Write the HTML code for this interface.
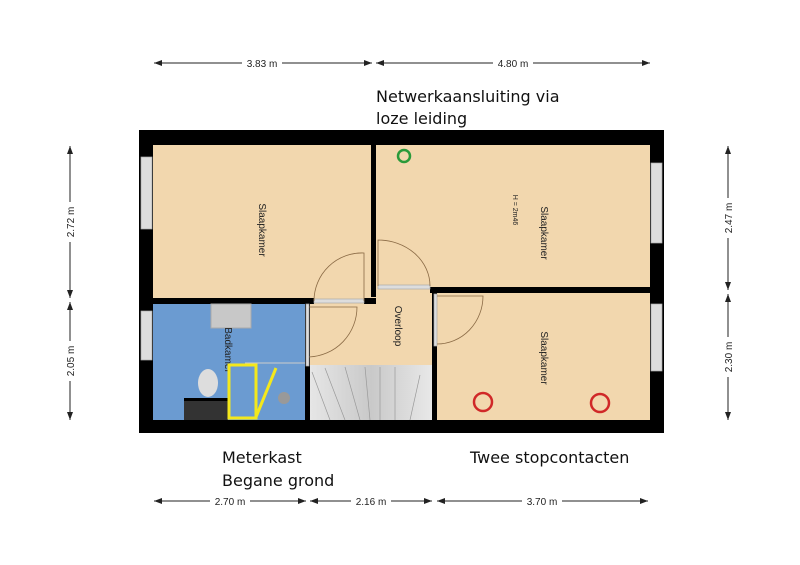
<!DOCTYPE html>
<html><head><meta charset="utf-8"><style>
body{margin:0;background:#fff;width:800px;height:565px;overflow:hidden}
svg{display:block}
.t{font-family:"Liberation Sans",sans-serif;font-size:10px;fill:#222}
.c{font-family:"DejaVu Sans","Liberation Sans",sans-serif;font-size:16px;fill:#111}
</style></head><body>
<svg width="800" height="565" viewBox="0 0 800 565">
<defs>
<marker id="a" markerWidth="8" markerHeight="6" refX="8" refY="3" orient="auto"><path d="M0,0 L8,3 L0,6z" fill="#222"/></marker>
<marker id="b" markerWidth="8" markerHeight="6" refX="0" refY="3" orient="auto"><path d="M8,0 L0,3 L8,6z" fill="#222"/></marker>
<linearGradient id="st" x1="0" x2="1"><stop offset="0" stop-color="#e6e6e6"/><stop offset="0.5" stop-color="#c9c9c9"/><stop offset="1" stop-color="#e8e8e8"/></linearGradient>
</defs>
<g stroke="#222" stroke-width="1" marker-start="url(#b)" marker-end="url(#a)">
<line x1="154" y1="63" x2="372" y2="63"/><line x1="376" y1="63" x2="650" y2="63"/>
<line x1="154" y1="501" x2="306" y2="501"/><line x1="310" y1="501" x2="432" y2="501"/><line x1="437" y1="501" x2="648" y2="501"/>
<line x1="70" y1="146" x2="70" y2="298"/><line x1="70" y1="302" x2="70" y2="420"/>
<line x1="728" y1="146" x2="728" y2="290"/><line x1="728" y1="294" x2="728" y2="420"/>
</g>
<g class="t" text-anchor="middle">
<rect x="242" y="56" width="40" height="14" fill="#fff"/><text x="262" y="67">3.83 m</text>
<rect x="493" y="56" width="40" height="14" fill="#fff"/><text x="513" y="67">4.80 m</text>
<rect x="210" y="494" width="40" height="14" fill="#fff"/><text x="230" y="505">2.70 m</text>
<rect x="351" y="494" width="40" height="14" fill="#fff"/><text x="371" y="505">2.16 m</text>
<rect x="522" y="494" width="40" height="14" fill="#fff"/><text x="542" y="505">3.70 m</text>
<g transform="translate(74,222) rotate(-90)"><rect x="-20" y="-12" width="40" height="14" fill="#fff"/><text>2.72 m</text></g>
<g transform="translate(74,361) rotate(-90)"><rect x="-20" y="-12" width="40" height="14" fill="#fff"/><text>2.05 m</text></g>
<g transform="translate(732,218) rotate(-90)"><rect x="-20" y="-12" width="40" height="14" fill="#fff"/><text>2.47 m</text></g>
<g transform="translate(732,357) rotate(-90)"><rect x="-20" y="-12" width="40" height="14" fill="#fff"/><text>2.30 m</text></g>
</g>
<rect x="139" y="130" width="525" height="303" fill="#000"/>
<rect x="153" y="145" width="497" height="275" fill="#f2d7ae"/>
<rect x="153" y="304" width="154" height="116" fill="#6b9bd1"/>
<rect x="310" y="365" width="122" height="55" fill="url(#st)"/>
<g stroke="#999" stroke-width="0.7" fill="none">
<path d="M330,420 L312,372 M345,420 L325,368 M360,420 L345,367 M370,420 L365,367 M380,420 L380,367 M395,420 L395,367 M410,420 L420,375"/>
</g>
<rect x="371" y="145" width="5" height="152" fill="#000"/>
<rect x="153" y="298" width="161" height="6" fill="#000"/>
<rect x="364" y="298" width="12" height="6" fill="#000"/>
<rect x="430" y="287" width="220" height="6" fill="#000"/>
<rect x="305" y="304" width="5" height="116" fill="#000"/>
<rect x="432" y="293" width="5" height="127" fill="#000"/>
<rect x="184" y="400" width="44" height="20" fill="#333"/>
<rect x="184" y="398" width="44" height="3" fill="#000"/>
<ellipse cx="208" cy="383" rx="10" ry="14" fill="#ddd"/>
<rect x="211" y="304" width="40" height="24" fill="#c8c8c8" stroke="#aaa"/>
<circle cx="284" cy="398" r="6" fill="#999"/>
<line x1="245" y1="363" x2="305" y2="363" stroke="#ccc"/>
<g fill="#ddd" stroke="#aaa" stroke-width="0.7">
<rect x="141" y="157" width="11" height="72"/><rect x="141" y="311" width="11" height="49"/>
<rect x="651" y="163" width="11" height="80"/><rect x="651" y="304" width="11" height="67"/>
<rect x="314" y="299" width="50" height="4"/><rect x="378" y="285" width="52" height="4"/>
<rect x="306" y="304" width="3" height="62"/><rect x="434" y="294" width="3" height="52"/>
</g>
<g fill="none" stroke="#8a6a45" stroke-width="0.8">
<path d="M364,301 L364,253 A48,48 0 0 0 314,301"/>
<path d="M378,286 L378,240 A52,46 0 0 1 430,286"/>
<path d="M309,307 L357,307 A50,50 0 0 1 309,357"/>
<path d="M437,296 L483,296 A46,48 0 0 1 437,344"/>
</g>
<g class="t" font-size="10">
<text transform="translate(259,230) rotate(90)" text-anchor="middle">Slaapkamer</text>
<text transform="translate(541,233) rotate(90)" text-anchor="middle">Slaapkamer</text>
<text transform="translate(513,210) rotate(90)" text-anchor="middle" font-size="7">H = 2m46</text>
<text transform="translate(541,358) rotate(90)" text-anchor="middle">Slaapkamer</text>
<text transform="translate(395,326) rotate(90)" text-anchor="middle">Overloop</text>
<text transform="translate(225,350) rotate(90)" text-anchor="middle">Badkamer</text>
</g>
<rect x="229" y="365" width="27" height="53" fill="none" stroke="#f4e81c" stroke-width="3"/>
<path d="M256,417 L276,368" stroke="#f4e81c" stroke-width="3"/>
<circle cx="404" cy="156" r="6" fill="none" stroke="#2a9a3a" stroke-width="2.5"/>
<circle cx="483" cy="402" r="9" fill="none" stroke="#d02828" stroke-width="2.5"/>
<circle cx="600" cy="403" r="9" fill="none" stroke="#d02828" stroke-width="2.5"/>
<text class="c" x="376" y="102">Netwerkaansluiting via</text>
<text class="c" x="376" y="124">loze leiding</text>
<text class="c" x="222" y="463">Meterkast</text>
<text class="c" x="222" y="486">Begane grond</text>
<text class="c" x="470" y="463">Twee stopcontacten</text>
</svg>
</body></html>
